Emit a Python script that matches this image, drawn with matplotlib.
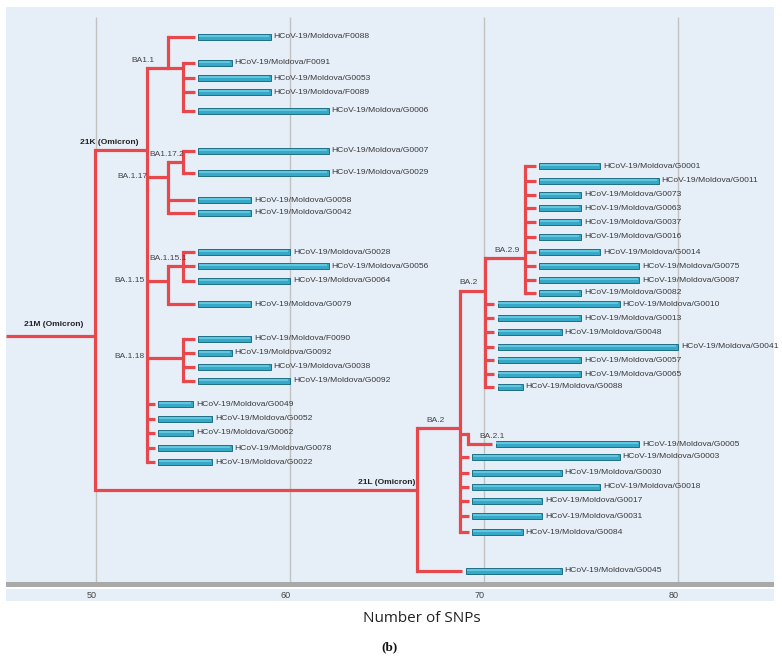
import matplotlib.pyplot as plt

# internal nodes of the tree: name, x (SNPs), row position, parent
node_names = ['21M', '21K', '21L', 'BA1.1', 'BA1.1s', 'BA.1.17', 'BA1.17.2',
              'BA.1.15', 'BA.1.15.1', 'BA.1.18', 'BA.2', 'BA.2u', 'BA.2.9', 'BA.2.1']
node_x = [49.95, 52.63, 66.55, 53.7, 54.5, 53.7, 54.5,
          53.7, 54.5, 54.5, 68.76, 70.05, 72.1, 69.2]
node_y = [336, 150, 490, 68, 68, 177, 162, 281, 266, 358, 428, 291, 258, 434]
node_parent = [None, '21M', '21M', '21K', 'BA1.1', '21K', 'BA.1.17',
               '21K', 'BA.1.15', '21K', '21L', 'BA.2', 'BA.2u', 'BA.2']
root_start = 45.36

# clade labels: text, anchor x, row, bold
clade_text = ['21M (Omicron)', '21K (Omicron)', '21L (Omicron)', 'BA1.1', 'BA1.17.2',
              'BA.1.17', 'BA.1.15.1', 'BA.1.15', 'BA.1.18', 'BA.2', 'BA.2', 'BA.2.9', 'BA.2.1']
clade_x = [46.3, 49.2, 63.5, 51.8, 52.75, 51.1, 52.75, 50.95, 50.95, 67.05, 68.75, 70.55, 69.75]
clade_y = [325, 142, 482, 60, 154, 177, 259, 281, 357, 421, 283, 251, 436]
clade_bold = [True, True, True] + [False] * 10

# samples (leaves)
leaf_names = ['F0088', 'F0091', 'G0053', 'F0089', 'G0006',
              'G0007', 'G0029', 'G0058', 'G0042',
              'G0028', 'G0056', 'G0064', 'G0079',
              'F0090', 'G0092', 'G0038', 'G0092',
              'G0049', 'G0052', 'G0062', 'G0078', 'G0022',
              'G0001', 'G0011', 'G0073', 'G0063', 'G0037', 'G0016', 'G0014', 'G0075', 'G0087', 'G0082',
              'G0010', 'G0013', 'G0048', 'G0041', 'G0057', 'G0065', 'G0088',
              'G0005', 'G0003', 'G0030', 'G0018', 'G0017', 'G0031', 'G0084',
              'G0045']
leaf_parent = ['BA1.1', 'BA1.1s', 'BA1.1s', 'BA1.1s', 'BA1.1s',
               'BA1.17.2', 'BA1.17.2', 'BA.1.17', 'BA.1.17',
               'BA.1.15.1', 'BA.1.15.1', 'BA.1.15.1', 'BA.1.15',
               'BA.1.18', 'BA.1.18', 'BA.1.18', 'BA.1.18',
               '21K', '21K', '21K', '21K', '21K'] + ['BA.2.9'] * 10 + ['BA.2u'] * 7 + \
              ['BA.2.1'] + ['BA.2'] * 6 + ['21L']
leaf_y = [37, 63, 78, 92, 111,
          151, 173, 200, 213,
          252, 266, 281, 304,
          339, 353, 367, 381,
          404, 419, 433, 448, 462,
          166, 181, 195, 208, 222, 237, 252, 266, 280, 293,
          304, 318, 332, 347, 360, 374, 387,
          444, 457, 473, 487, 501, 516, 532,
          571]
leaf_start = [55.26] * 17 + [53.2] * 5 + [72.84] * 10 + [70.7] * 7 + [70.6] + [69.4] * 6 + [69.07]
leaf_end = [59, 57, 59, 59, 62,
            62, 62, 58, 58,
            60, 62, 60, 58,
            58, 57, 59, 60,
            55, 56, 55, 57, 56,
            76, 79, 75, 75, 75, 75, 76, 78, 78, 75,
            77, 75, 74, 80, 75, 75, 72,
            78, 77, 74, 76, 73, 73, 72,
            74]

x_ticks = [50, 60, 70, 80]

RED = '#e8484c'
PANEL = '#e6eef7'
W, H = 782, 667

fig = plt.figure(figsize=(7.82, 6.67), dpi=100)
ax = fig.add_axes([6 / W, (H - 587) / H, 768 / W, 580 / H])
ax.set_facecolor(PANEL)
ax.set_xlim(root_start, 84.95)
ax.set_ylim(587, 7)
for s in ax.spines.values():
    s.set_visible(False)
ax.set_xticks([])
ax.set_yticks([])

# grid lines and bottom bar
ax.vlines(x_ticks, 17, 582, color='#c2c2c2', lw=1, zorder=1)
ax.axhspan(582, 587, color='#a9a9a9', lw=0, zorder=1)

lw = 2.3
pos = {n: (x, y) for n, x, y in zip(node_names, node_x, node_y)}
children = {n: [] for n in node_names}
for n, p in zip(node_names, node_parent):
    if p is not None:
        children[p].append(pos[n][1])
for n, y in zip(leaf_parent, leaf_y):
    children[n].append(y)

# vertical connectors
for n in node_names:
    x, y = pos[n]
    ys = children[n] + [y]
    ax.plot([x, x], [min(ys), max(ys)], color=RED, lw=lw, solid_capstyle='projecting', zorder=2)

# horizontal branches to internal nodes
for n, p in zip(node_names, node_parent):
    x, y = pos[n]
    px = root_start if p is None else pos[p][0]
    ax.plot([px, x], [y, y], color=RED, lw=lw, solid_capstyle='butt', zorder=2)

# leaf stubs, bars and names
for name, p, y, x0, x1 in zip(leaf_names, leaf_parent, leaf_y, leaf_start, leaf_end):
    px = pos[p][0]
    ax.plot([px, x0 - 0.18], [y, y], color=RED, lw=lw, solid_capstyle='butt', zorder=2)
    ax.barh(y, x1 - x0, left=x0, height=6.5, color='#36a9c8', edgecolor='#1e6f86',
            lw=0.7, zorder=3)
    ax.barh(y - 1.3, x1 - x0 - 0.12, left=x0 + 0.04, height=2.0, color='#62c6df',
            lw=0, zorder=4)
    ax.text(x1 + 0.15, y, 'HCoV-19/Moldova/' + name, fontsize=6.1, color='#3a3a3a',
            va='center', ha='left', family='Liberation Sans', zorder=5)

for t, x, y, b in zip(clade_text, clade_x, clade_y, clade_bold):
    ax.text(x, y, t, fontsize=6.0, color='#222222' if b else '#444444',
            fontweight='bold' if b else 'normal', va='center', ha='left',
            family='Liberation Sans', zorder=5)

# strip with tick labels
strip = fig.add_axes([6 / W, (H - 601) / H, 768 / W, 12 / H])
strip.set_facecolor(PANEL)
strip.set_xlim(ax.get_xlim())
strip.set_ylim(0, 1)
for s in strip.spines.values():
    s.set_visible(False)
strip.set_xticks([])
strip.set_yticks([])
for v in x_ticks:
    strip.text(v - 0.22, 0.45, str(v), fontsize=6.5, color='#444444', ha='center',
               va='center', family='Liberation Sans')

fig.text(422 / W, 1 - 619 / H, 'Number of SNPs', fontsize=11, ha='center', va='center',
         family='Open Sans', color='#222222')
fig.text(390 / W, 1 - 647 / H, '(b)', fontsize=9.5, ha='center', va='center',
         family='Liberation Serif', fontweight='bold', color='#111111')

fig.savefig('out.png', dpi=100)
